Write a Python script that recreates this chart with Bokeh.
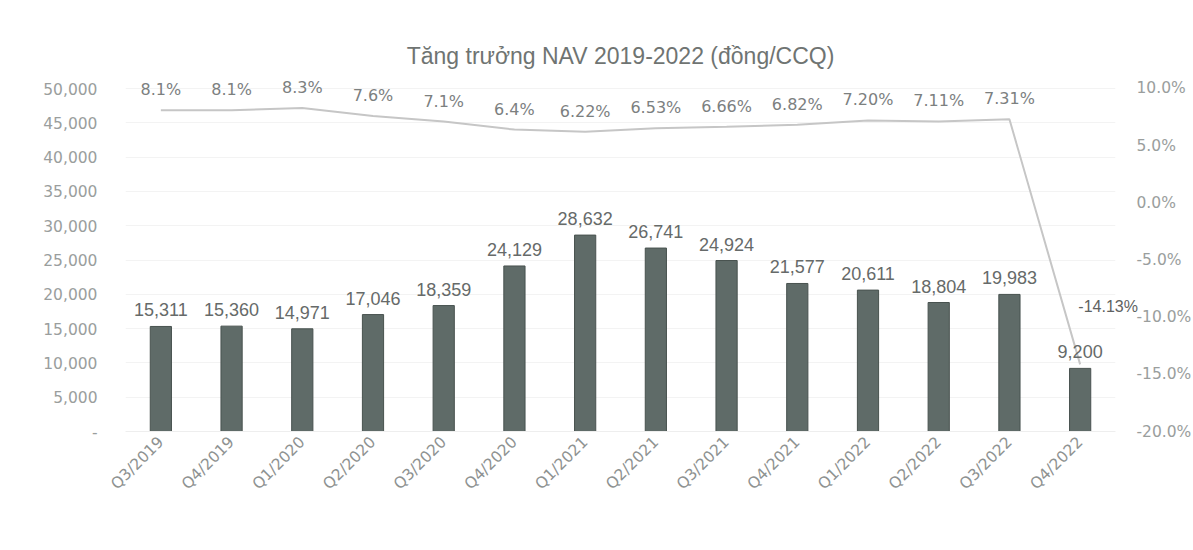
from bokeh.plotting import figure
from bokeh.models import (ColumnDataSource, Range1d, LinearAxis, FixedTicker, LabelSet, Label,
                          CustomJSTickFormatter, Legend, LegendItem, Title)
from bokeh.core.properties import value
from bokeh.embed import file_html
from bokeh.resources import INLINE
from math import pi

quarters = ["Q3/2019", "Q4/2019", "Q1/2020", "Q2/2020", "Q3/2020", "Q4/2020", "Q1/2021",
            "Q2/2021", "Q3/2021", "Q4/2021", "Q1/2022", "Q2/2022", "Q3/2022", "Q4/2022"]
nav = [15311, 15360, 14971, 17046, 18359, 24129, 28632, 26741, 24924, 21577, 20611, 18804, 19983, 9200]
nav_labels = ["15,311", "15,360", "14,971", "17,046", "18,359", "24,129", "28,632", "26,741",
              "24,924", "21,577", "20,611", "18,804", "19,983", "9,200"]
yoy = [8.1, 8.1, 8.3, 7.6, 7.1, 6.4, 6.22, 6.53, 6.66, 6.82, 7.20, 7.11, 7.31, -14.13]
yoy_labels = ["8.1%", "8.1%", "8.3%", "7.6%", "7.1%", "6.4%", "6.22%", "6.53%", "6.66%",
              "6.82%", "7.20%", "7.11%", "7.31%", "-14.13%"]
left_ticks = [0, 5000, 10000, 15000, 20000, 25000, 30000, 35000, 40000, 45000, 50000]
right_ticks = [-20, -15, -10, -5, 0, 5, 10]

FONT = "Liberation Sans"
TFONT = "DejaVu Sans"

src = ColumnDataSource(dict(q=quarters, nav=nav, nav_lbl=nav_labels, yoy=yoy, yoy_lbl=yoy_labels))
src_main = ColumnDataSource(dict(q=quarters[:-1], yoy=yoy[:-1], yoy_lbl=yoy_labels[:-1]))

p = figure(width=1193, height=550, frame_width=990, frame_height=361, x_range=quarters,
           y_range=Range1d(0, 52624), title=None,
           output_backend="svg", toolbar_location=None,
           min_border_left=125, min_border_right=78, min_border_top=70, min_border_bottom=0)
p.extra_y_ranges = {"pct": Range1d(-20, 11.57)}

p.add_layout(Title(text="Tăng trưởng NAV 2019-2022 (đồng/CCQ)", align="center",
                   text_font=FONT, text_font_size="23px", text_color="#6f7472",
                   text_font_style="normal", standoff=4), "above")
p.outline_line_color = None
p.background_fill_color = "white"
p.border_fill_color = "white"

p.xgrid.grid_line_color = None
p.ygrid.grid_line_color = "#f3f3f3"
p.ygrid.ticker = FixedTicker(ticks=left_ticks)

bars = p.vbar(x="q", top="nav", width=0.3, source=src, fill_color="#5f6b68",
              line_color="#48524f", line_width=1)
line = p.line(x="q", y="yoy", source=src, y_range_name="pct", line_color="#c6c6c6", line_width=2)

p.add_layout(LabelSet(x="q", y="nav", text="nav_lbl", source=src, text_align="center",
                      text_baseline="alphabetic", y_offset=10, text_font_size="18px",
                      text_color="#666a69", text_font=value(FONT)))
p.add_layout(LabelSet(x="q", y="yoy", text="yoy_lbl", source=src_main, y_range_name="pct",
                      text_align="center", text_baseline="alphabetic", y_offset=15,
                      text_font_size="16px", text_color="#7c807f", text_font=value(TFONT)))

# last point's label overflows the plot area in the original; a side-panel label is not clipped
p.add_layout(Label(x=len(quarters) - 0.5, y=yoy[-1], text=yoy_labels[-1], y_range_name="pct",
                   text_align="center", text_baseline="middle", x_offset=28, y_offset=58,
                   text_font_size="16px", text_color="#5e6261", text_font=FONT), "above")

# x axis
xa = p.xaxis[0]
xa.major_label_orientation = pi / 4
xa.axis_line_color = "#eeeeee"
xa.major_tick_line_color = None
xa.minor_tick_line_color = None
xa.major_tick_out = 0
xa.major_label_text_font = TFONT
xa.major_label_text_font_size = "15.5px"
xa.major_label_text_color = "#8e9291"
xa.major_label_standoff = 8

legend = Legend(items=[LegendItem(label="NAV", renderers=[bars]),
                       LegendItem(label="Tỷ suất sinh lời 1 năm cùng kỳ (yoy)", renderers=[line])],
                orientation="horizontal", location="bottom_center", border_line_color=None,
                label_text_font=FONT, label_text_font_size="19px", label_text_color="#6a6e6d",
                glyph_width=28, glyph_height=8, spacing=24, label_standoff=3,
                padding=0, margin=1)
p.add_layout(legend, "below")

# left axis
ya = p.yaxis[0]
ya.ticker = FixedTicker(ticks=left_ticks)
ya.formatter = CustomJSTickFormatter(code="return tick == 0 ? '-' : tick.toLocaleString('en-US');")
ya.axis_line_color = None
ya.major_tick_line_color = None
ya.minor_tick_line_color = None
ya.major_label_text_font = TFONT
ya.major_label_text_font_size = "15.5px"
ya.major_label_text_color = "#9a9e9d"
ya.major_label_standoff = 22

# right axis
ra = LinearAxis(y_range_name="pct", ticker=FixedTicker(ticks=right_ticks),
                formatter=CustomJSTickFormatter(code="return tick.toFixed(1) + '%';"))
ra.axis_line_color = None
ra.major_tick_line_color = None
ra.minor_tick_line_color = None
ra.major_label_text_font = TFONT
ra.major_label_text_font_size = "15.5px"
ra.major_label_text_color = "#9a9e9d"
ra.major_label_standoff = 15
p.add_layout(ra, "right")

open("out.html", "w").write(file_html(p, INLINE))
